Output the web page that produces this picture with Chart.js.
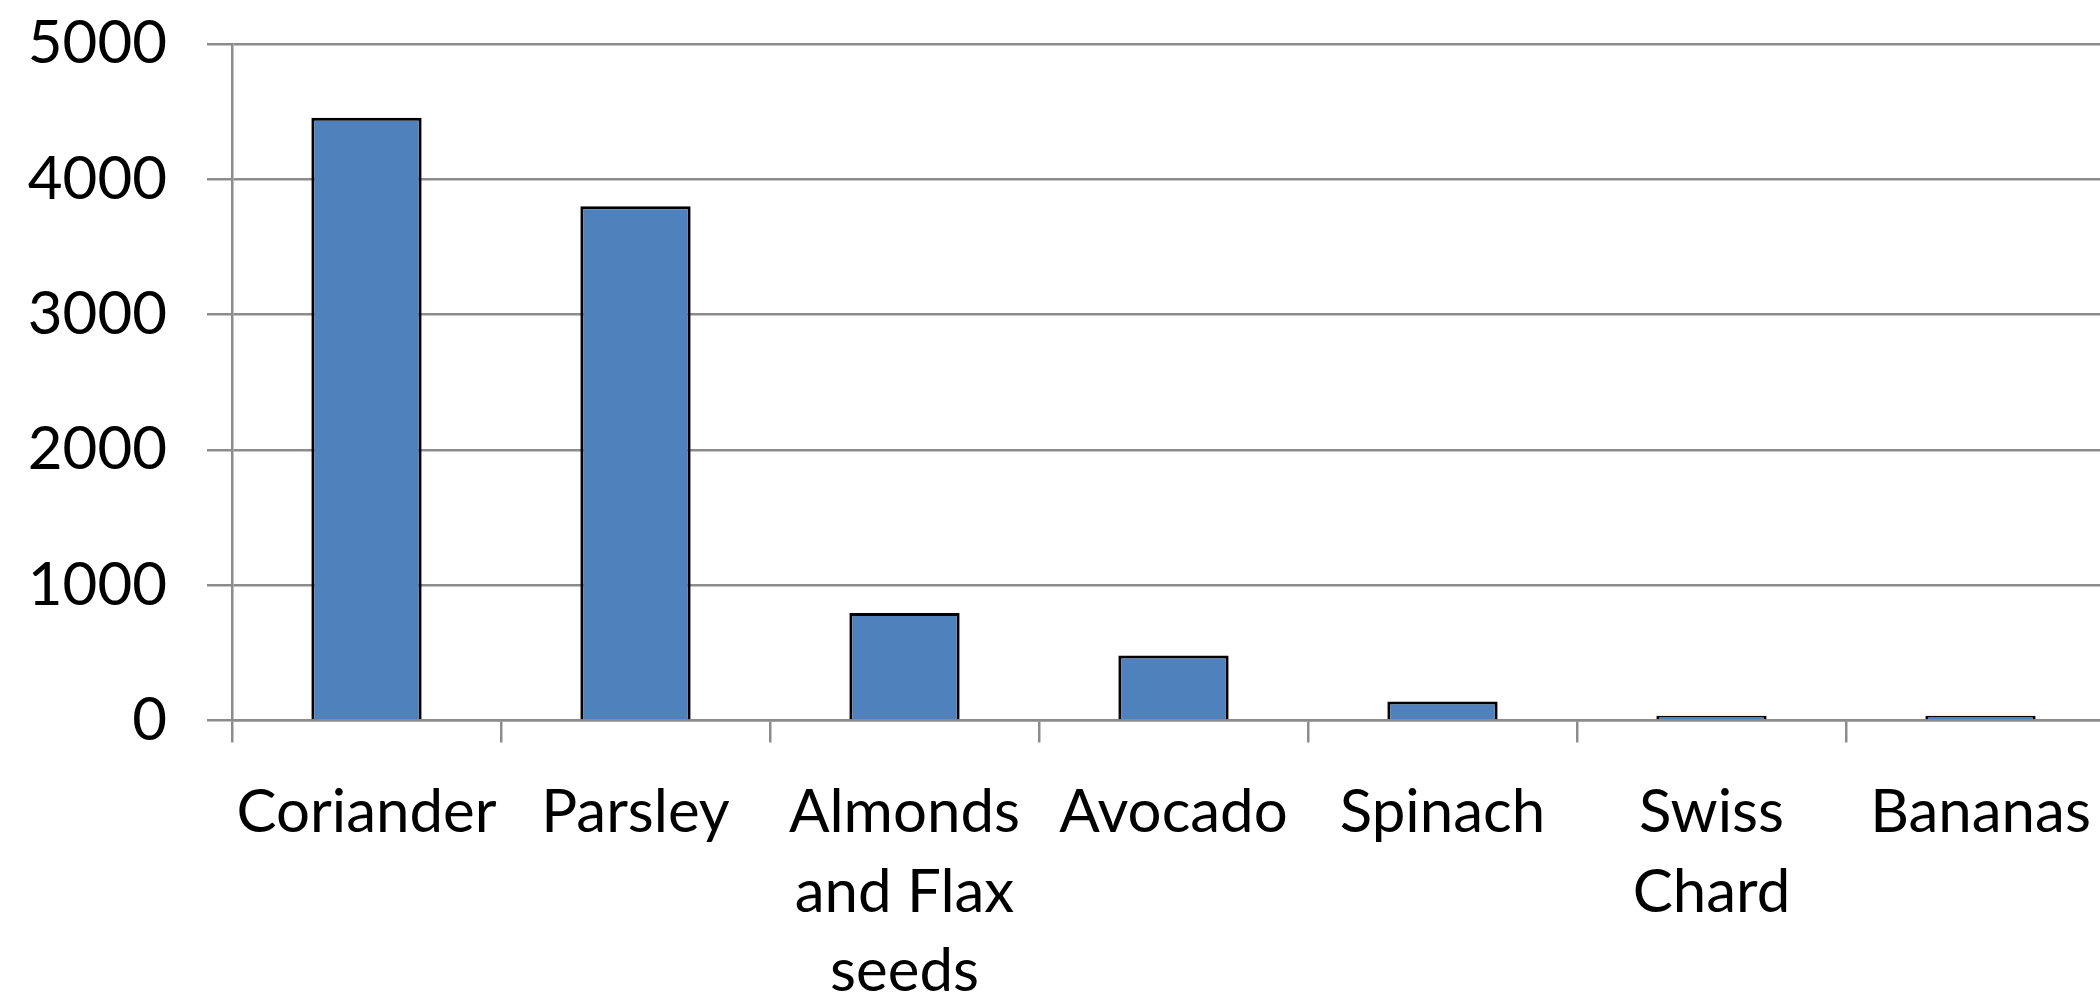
<!DOCTYPE html>
<html>
<head>
<meta charset="utf-8">
<script src="https://cdn.jsdelivr.net/npm/chart.js@4/dist/chart.umd.min.js"></script>
<style>
  html, body { margin: 0; padding: 0; background: #ffffff; overflow: hidden; }
  #wrap { position: absolute; left: 0; top: 0; width: 2116px; height: 994px; }
</style>
</head>
<body>
<div id="wrap"><canvas id="chart" width="2116" height="994"></canvas></div>
<script>
// Categories (multi-line labels where the text wraps)
const categories = [
  'Coriander',
  'Parsley',
  ['Almonds', 'and Flax', 'seeds'],
  'Avocado',
  'Spinach',
  ['Swiss', 'Chard'],
  'Bananas'
];
// Series values
const values = [4455, 3800, 795, 480, 140, 35, 35];
// Y axis range and step
const yMin = 0;
const yMax = 5000;
const yStep = 1000;

const gridGray = '#8c8c8c';
const labelFont = { family: 'Lato', size: 60, lineHeight: 1.32 };

new Chart(document.getElementById('chart'), {
  type: 'bar',
  data: {
    labels: categories,
    datasets: [{
      data: values,
      backgroundColor: '#4f81bd',
      borderColor: '#000000',
      borderWidth: 3,
      categoryPercentage: 1.0,
      barPercentage: 0.41
    }]
  },
  options: {
    responsive: false,
    animation: false,
    devicePixelRatio: 1,
    layout: { padding: { top: 44, right: 1, left: 0, bottom: 0 } },
    plugins: {
      legend: { display: false },
      tooltip: { enabled: false }
    },
    scales: {
      x: {
        grid: {
          display: true,
          offset: true,
          drawOnChartArea: false,
          drawTicks: true,
          tickLength: 22,
          color: gridGray,
          lineWidth: 2.5
        },
        border: { display: true, color: gridGray, width: 2.5 },
        ticks: {
          color: '#000000',
          font: labelFont,
          padding: 31,
          maxRotation: 0,
          autoSkip: false
        },
        afterFit: (scale) => {
          scale.height = 273.5;
          scale.paddingLeft = 0;
          scale.paddingRight = 0;
        }
      },
      y: {
        min: yMin,
        max: yMax,
        grid: {
          color: gridGray,
          lineWidth: 2.5,
          tickLength: 25,
          drawTicks: true
        },
        border: { display: true, color: gridGray, width: 2.5 },
        ticks: {
          stepSize: yStep,
          color: '#000000',
          font: { family: 'Lato', size: 60 },
          padding: 40,
          callback: (v) => String(v)
        },
        afterFit: (scale) => {
          scale.width = 232;
          scale.paddingTop = 0;
          scale.paddingBottom = 0;
        }
      }
    }
  }
});
</script>
</body>
</html>
